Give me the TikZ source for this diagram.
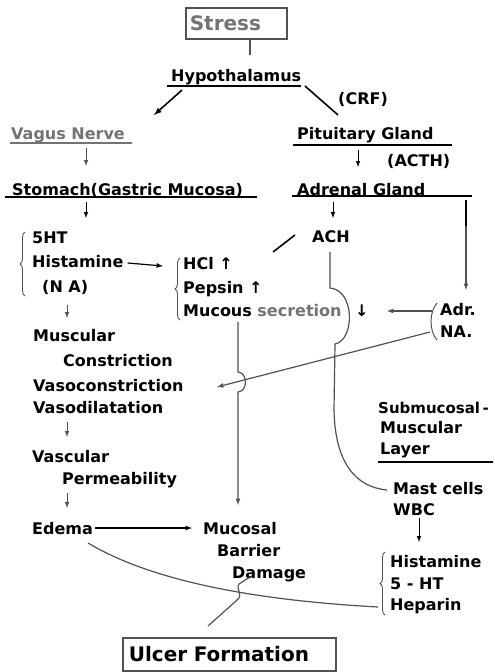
\documentclass[tikz,border=0pt]{standalone}
\usepackage{fontspec}
\setmainfont{DejaVu Sans}
\usepackage{tikz}
\usetikzlibrary{
  arrows,%
  calc,%
  % braces beside the lists
  decorations.pathreplacing,%
  positioning
}
\tikzset{>=latex}
\definecolor{linegray}{gray}{0.32}
\definecolor{textgray}{gray}{0.45}
\tikzset{
  lbl/.style={anchor=west, inner sep=0pt, text height=12pt, text depth=3.5pt,
    font=\bfseries\fontsize{16}{19}\selectfont},
  link/.style={draw=linegray, line width=1.2pt},
  dn/.style={link, line width=1pt, ->},
  ul/.style={line width=1.3pt},
  brc/.style={draw=linegray, line width=0.9pt, decorate,
    decoration={brace, amplitude=5pt}},
  boxed/.style={draw=linegray, line width=1.6pt, anchor=north west,
    inner ysep=0pt, align=left},
}

\begin{document}
\begin{tikzpicture}[x=1pt, y=-1pt]
  \useasboundingbox (0,0) rectangle (495,672);

  % framed start and end
  \node[boxed, text width=93pt, inner xsep=4pt, minimum height=31pt, text=textgray,
    font=\bfseries\fontsize{20}{24}\selectfont] (stress) at (185,7) {Stress};
  \node[boxed, text width=201pt, inner xsep=6pt, minimum height=33pt,
    font=\bfseries\fontsize{20}{24}\selectfont] (ulcer) at (122,637) {Ulcer Formation};

  % upper part
  \node[lbl] (hypo) at (171,77.6) {Hypothalamus};
  \node[lbl] (crf) at (338,100.5) {(CRF)};
  \node[lbl, text=textgray] (vagus) at (11,135.5) {Vagus Nerve};
  \node[lbl] (pit) at (297,135) {Pituitary Gland};
  \node[lbl] (acth) at (387,162) {(ACTH)};
  \node[lbl] (stomach) at (12,191.5) {Stomach(Gastric Mucosa)};
  \node[lbl] (adrenal) at (297,191.5) {Adrenal Gland};
  \draw[ul] (167,86) -- (301,86);
  \draw[ul, draw=textgray] (10,143) -- (132,143);
  \draw[ul] (293,145) -- (452,145);
  \draw[ul] (5,197) -- (257,197);
  \draw[ul] (292,196) -- (472,196);

  % stomach side
  \node[lbl] (sht) at (32,239.6) {5HT};
  \node[lbl] (hist) at (32,263) {Histamine};
  \node[lbl] (na) at (42,288) {(N A)};
  \node[lbl] (hcl) at (183,265.6) {HCl ↑};
  \node[lbl] (pepsin) at (183,289) {Pepsin ↑};
  \node[lbl] (mucous) at (183,312.6) {Mucous \textcolor{textgray}{secretion}};
  \node[lbl] (decr) at (355,312.6) {↓};
  \node[lbl] (ach) at (312,238) {ACH};
  \node[lbl] (adr) at (440,311.6) {Adr.};
  \node[lbl] (nadr) at (440,333.6) {NA.};
  \node[lbl] (musc) at (33,337.6) {Muscular};
  \node[lbl] (constr) at (63,362.6) {Constriction};
  \node[lbl] (vasoc) at (33,387.6) {Vasoconstriction};
  \node[lbl] (vasod) at (33,409) {Vasodilatation};
  \node[lbl] (vasc) at (32,458) {Vascular};
  \node[lbl] (perm) at (62,480) {Permeability};
  \node[lbl] (edema) at (32,530) {Edema};
  \node[lbl] (mucosal) at (203,530) {Mucosal};
  \node[lbl] (barrier) at (217,552.6) {Barrier};
  \node[lbl] (damage) at (232,574.6) {Damage};

  % submucosal side
  \node[lbl, font=\bfseries\fontsize{15}{18}\selectfont] (submuc) at (378,409) {Submucosal\,-};
  \node[lbl] (smusc) at (380,429) {Muscular};
  \node[lbl] (layer) at (380,450.6) {Layer};
  \draw[ul] (378,462) -- (493,462);
  \node[lbl] (mast) at (393,490) {Mast cells};
  \node[lbl] (wbc) at (393,511) {WBC};
  \node[lbl] (hist2) at (390,563) {Histamine};
  \node[lbl] (ht) at (390,585) {5 - HT};
  \node[lbl] (hep) at (390,606.6) {Heparin};

  % braces
  \draw[brc] (25,296) -- (25,232);
  \draw[brc] (180,320) -- (180,258);
  \draw[brc] (385,615) -- (385,552);
  \draw[link, line width=1pt] (437,303) .. controls (429,312) and (429,331) .. (437,340);

  % connectors
  \coordinate (s1) at (250,38);
  \coordinate (s2) at (250,55);
  \coordinate (h1) at (182,90);
  \coordinate (h2) at (154,115);
  \coordinate (h3) at (305,86);
  \coordinate (h4) at (338,115);
  \draw[link] (s1) -- (s2);
  \draw[link, line width=1.6pt, draw=black, ->] (h1) -- (h2);
  \draw[link, line width=1.6pt, draw=black] (h3) -- (h4);
  \draw[dn] (86,148) -- (86,166);
  \draw[dn, draw=black] (358,150) -- (358,167);
  \draw[dn, draw=black] (86,202) -- (86,218);
  \draw[dn, draw=black] (333,202) -- (333,218);
  \draw[link, line width=2pt, draw=black] (466,200) -- (466,228);
  \draw[link, ->] (466,226) -- (466,290);
  \draw[link, ->, draw=black] (hist.east) ++(4,0) -- (163,266);
  \draw[link, line width=1.6pt, draw=black] (273,252) -- (295,235);
  % ACH down to mast cells, jumping the secretion row
  \draw[link] (ach.south) ++(-1,6) -- (330,288)
    .. controls (355,290) and (355,340) .. (335,344) -- (334,410)
    .. controls (335,462) and (355,487) .. (387,490);
  \draw[link, ->] (432,311) -- (387,311);
  \draw[link, ->] (430,332) -- (217,387);
  % mucous secretion down to barrier, jumping the NA line
  \draw[link, ->] (238,322) -- (238,372)
    .. controls (248,373) and (248,391) .. (238,392) -- (238,505);
  \draw[dn] (67,305) -- (67,318);
  \draw[dn] (67,422) -- (67,437);
  \draw[dn] (67,493) -- (67,508);
  \draw[link, ->, draw=black] (95,528) -- (192,528);
  \draw[dn, draw=black] (419,518) -- (419,542);
  \draw[link] (88,543) .. controls (150,580) and (250,600) .. (378,607);
  \draw[link] (250,577) -- (239,584) .. controls (235,590) and (245,594) .. (236,601) -- (208,626);
\end{tikzpicture}
\end{document}
